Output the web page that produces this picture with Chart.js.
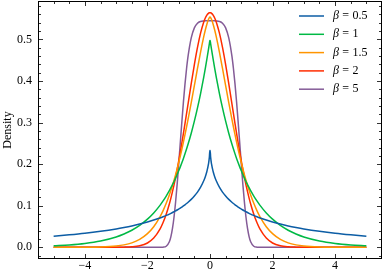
<!DOCTYPE html>
<html>
<head>
<meta charset="utf-8">
<script src="https://cdn.jsdelivr.net/npm/chart.js@4.4.0/dist/chart.umd.min.js"></script>
<style>
html,body{margin:0;padding:0;background:#fff;}
canvas{display:block;}
</style>
</head>
<body>
<canvas id="c" width="386" height="274"></canvas>
<script>
const xs = [-5.0,-4.5,-4.0,-3.5,-3.0,-2.75,-2.5,-2.25,-2.0,-1.8,-1.6,-1.5,-1.4,-1.3,-1.25,-1.2,-1.15,-1.1,-1.05,-1.0,-0.95,-0.9,-0.85,-0.8,-0.75,-0.7,-0.6,-0.5,-0.4,-0.3,-0.2,-0.15,-0.1,-0.05,-0.02,-0.005,
  0.005,0.02,0.05,0.1,0.15,0.2,0.3,0.4,0.5,0.6,0.7,0.75,0.8,0.85,0.9,0.95,1.0,1.05,1.1,1.15,1.2,1.25,1.3,1.4,1.5,1.6,1.8,2.0,2.25,2.5,2.75,3.0,3.5,4.0,4.5,5.0];

const beta05 = [0.0267,0.0300,0.0338,0.0385,0.0442,0.0476,0.0514,0.0558,0.0608,0.0654,0.0706,0.0735,0.0766,0.0799,0.0817,0.0836,0.0856,0.0876,0.0897,0.0920,0.0943,0.0968,0.0994,0.1022,0.1052,0.1083,0.1152,0.1233,0.1328,0.1446,0.1599,0.1697,0.1822,0.1999,0.2170,0.2329,
  0.2329,0.2170,0.1999,0.1822,0.1697,0.1599,0.1446,0.1328,0.1233,0.1152,0.1083,0.1052,0.1022,0.0994,0.0968,0.0943,0.0920,0.0897,0.0876,0.0856,0.0836,0.0817,0.0799,0.0766,0.0735,0.0706,0.0654,0.0608,0.0558,0.0514,0.0476,0.0442,0.0385,0.0338,0.0300,0.0267];

const beta1 = [0.0034,0.0056,0.0092,0.0151,0.0249,0.0320,0.0410,0.0527,0.0677,0.0826,0.1009,0.1116,0.1233,0.1363,0.1433,0.1506,0.1583,0.1664,0.1750,0.1839,0.1934,0.2033,0.2137,0.2247,0.2362,0.2483,0.2744,0.3033,0.3352,0.3704,0.4094,0.4304,0.4524,0.4756,0.4901,0.4975,
  0.4975,0.4901,0.4756,0.4524,0.4304,0.4094,0.3704,0.3352,0.3033,0.2744,0.2483,0.2362,0.2247,0.2137,0.2033,0.1934,0.1839,0.1750,0.1664,0.1583,0.1506,0.1433,0.1363,0.1233,0.1116,0.1009,0.0826,0.0677,0.0527,0.0410,0.0320,0.0249,0.0151,0.0092,0.0056,0.0034];

const beta15 = [0.0000,0.0000,0.0002,0.0008,0.0031,0.0058,0.0106,0.0190,0.0328,0.0495,0.0732,0.0882,0.1057,0.1258,0.1369,0.1488,0.1614,0.1747,0.1889,0.2038,0.2194,0.2358,0.2530,0.2708,0.2893,0.3083,0.3480,0.3889,0.4301,0.4700,0.5065,0.5226,0.5366,0.5477,0.5523,0.5537,
  0.5537,0.5523,0.5477,0.5366,0.5226,0.5065,0.4700,0.4301,0.3889,0.3480,0.3083,0.2893,0.2708,0.2530,0.2358,0.2194,0.2038,0.1889,0.1747,0.1614,0.1488,0.1369,0.1258,0.1057,0.0882,0.0732,0.0495,0.0328,0.0190,0.0106,0.0058,0.0031,0.0008,0.0002,0.0000,0.0000];

const beta2 = [0,0,0,0,0.0001,0.0003,0.0011,0.0036,0.0103,0.0221,0.0436,0.0595,0.0795,0.1041,0.1183,0.1337,0.1503,0.1683,0.1874,0.2076,0.2288,0.2510,0.2739,0.2975,0.3215,0.3456,0.3936,0.4394,0.4808,0.5156,0.5421,0.5516,0.5586,0.5628,0.5640,0.5642,
  0.5642,0.5640,0.5628,0.5586,0.5516,0.5421,0.5156,0.4808,0.4394,0.3936,0.3456,0.3215,0.2975,0.2739,0.2510,0.2288,0.2076,0.1874,0.1683,0.1503,0.1337,0.1183,0.1041,0.0795,0.0595,0.0436,0.0221,0.0103,0.0036,0.0011,0.0003,0.0001,0,0,0,0];

const beta5 = [0,0,0,0,0,0,0,0,0,0,0,0.0003,0.0025,0.0133,0.0257,0.0452,0.0729,0.1088,0.1520,0.2003,0.2512,0.3017,0.3494,0.3924,0.4295,0.4603,0.5038,0.5278,0.5390,0.5432,0.5444,0.5446,0.5446,0.5446,0.5446,0.5446,
  0.5446,0.5446,0.5446,0.5446,0.5446,0.5444,0.5432,0.5390,0.5278,0.5038,0.4603,0.4295,0.3924,0.3494,0.3017,0.2512,0.2003,0.1520,0.1088,0.0729,0.0452,0.0257,0.0133,0.0025,0.0003,0,0,0,0,0,0,0,0,0,0,0];

const betaLabels = ['0.5','1','1.5','2','5'];
const seriesValues = [beta05, beta1, beta15, beta2, beta5];
const seriesColors = ['#0C5DA5','#00B945','#FF9500','#FF2C00','#845B97'];
const xTickVals = [-4,-2,0,2,4];
const yTickVals = [0.0,0.1,0.2,0.3,0.4,0.5];

const FONT = '"Liberation Serif", "Times New Roman", serif';
const FS = 12;

const datasets = seriesValues.map((vals, k) => ({
  label: 'β = ' + betaLabels[k],
  data: xs.map((x, i) => ({x: x, y: vals[i]})),
  borderColor: seriesColors[k],
  backgroundColor: seriesColors[k],
  borderWidth: 1.5,
  pointRadius: 0,
  fill: false,
  cubicInterpolationMode: 'monotone'
}));

const framePlugin = {
  id: 'frame',
  afterDatasetsDraw(chart) {
    const ctx = chart.ctx;
    const a = chart.chartArea;
    const xs_ = chart.scales.x, ys_ = chart.scales.y;
    ctx.save();
    ctx.strokeStyle = '#000';
    ctx.lineWidth = 1;
    const L = Math.round(a.left) + 0.5, R = Math.round(a.right) - 0.5, T = Math.round(a.top) + 0.5, B = Math.round(a.bottom) - 0.5;
    ctx.strokeRect(L, T, R - L, B - T);
    ctx.lineWidth = 0.8;
    function xt(v, len) {
      const px = Math.round(xs_.getPixelForValue(v)) + 0.5;
      ctx.beginPath();
      ctx.moveTo(px, B); ctx.lineTo(px, B - len);
      ctx.moveTo(px, T); ctx.lineTo(px, T + len);
      ctx.stroke();
    }
    function yt(v, len) {
      const py = Math.round(ys_.getPixelForValue(v)) + 0.5;
      ctx.beginPath();
      ctx.moveTo(L, py); ctx.lineTo(L + len, py);
      ctx.moveTo(R, py); ctx.lineTo(R - len, py);
      ctx.stroke();
    }
    for (let i = -10; i <= 10; i++) {
      const v = i * 0.5;
      if (i % 4 === 0) xt(v, 4.5); else xt(v, 2.5);
    }
    for (let i = -1; i <= 29; i++) {
      const v = i * 0.02;
      if (i % 5 === 0) yt(v, 4.5); else yt(v, 2.5);
    }
    // legend
    const ds = chart.data.datasets;
    const lx0 = a.right - 83, lx1 = a.right - 58, tx = a.right - 49;
    ds.forEach((d, k) => {
      const y = a.top + 15 + k * 18.3;
      ctx.strokeStyle = d.borderColor;
      ctx.lineWidth = 1.5;
      ctx.beginPath();
      ctx.moveTo(lx0, y); ctx.lineTo(lx1, y);
      ctx.stroke();
      ctx.fillStyle = '#000';
      ctx.textBaseline = 'middle';
      ctx.textAlign = 'left';
      let x = tx;
      ctx.font = 'italic ' + FS + 'px ' + FONT;
      ctx.fillText('β', x, y);
      x += ctx.measureText('β').width + FS * 0.28;
      ctx.font = FS + 'px ' + FONT;
      ctx.fillText('=', x, y);
      x += ctx.measureText('=').width + FS * 0.28;
      ctx.fillText(betaLabels[k], x, y);
    });
    ctx.restore();
  }
};

new Chart(document.getElementById('c'), {
  type: 'line',
  data: { datasets: datasets },
  options: {
    responsive: false,
    animation: false,
    devicePixelRatio: 1,
    layout: { autoPadding: false, padding: { left: 0, right: 4, top: 1, bottom: 0 } },
    plugins: { legend: { display: false }, tooltip: { enabled: false } },
    scales: {
      x: {
        type: 'linear',
        min: -5.5, max: 5.5,
        afterBuildTicks: s => { s.ticks = xTickVals.map(v => ({value: v})); },
        afterFit: s => { s.height = 15; s.paddingLeft = 0; s.paddingRight = 0; },
        grid: { display: false, drawTicks: false },
        border: { display: false },
        ticks: {
          font: { family: FONT, size: FS }, color: '#000', padding: 0,
          maxRotation: 0, autoSkip: false,
          callback: v => String(v).replace('-', '\u2212')
        }
      },
      y: {
        type: 'linear',
        min: -0.0282, max: 0.5924,
        afterBuildTicks: s => { s.ticks = yTickVals.map(v => ({value: v})); },
        afterFit: s => { s.width = 38; s.paddingTop = 0; s.paddingBottom = 0; },
        grid: { display: false, drawTicks: false },
        border: { display: false },
        title: { display: true, text: 'Density', font: { family: FONT, size: FS }, color: '#000', padding: { top: 1, bottom: 0 } },
        ticks: {
          font: { family: FONT, size: FS }, color: '#000', padding: 6,
          autoSkip: false,
          callback: v => Number(v).toFixed(1)
        }
      }
    }
  },
  plugins: [framePlugin]
});
</script>
</body>
</html>
